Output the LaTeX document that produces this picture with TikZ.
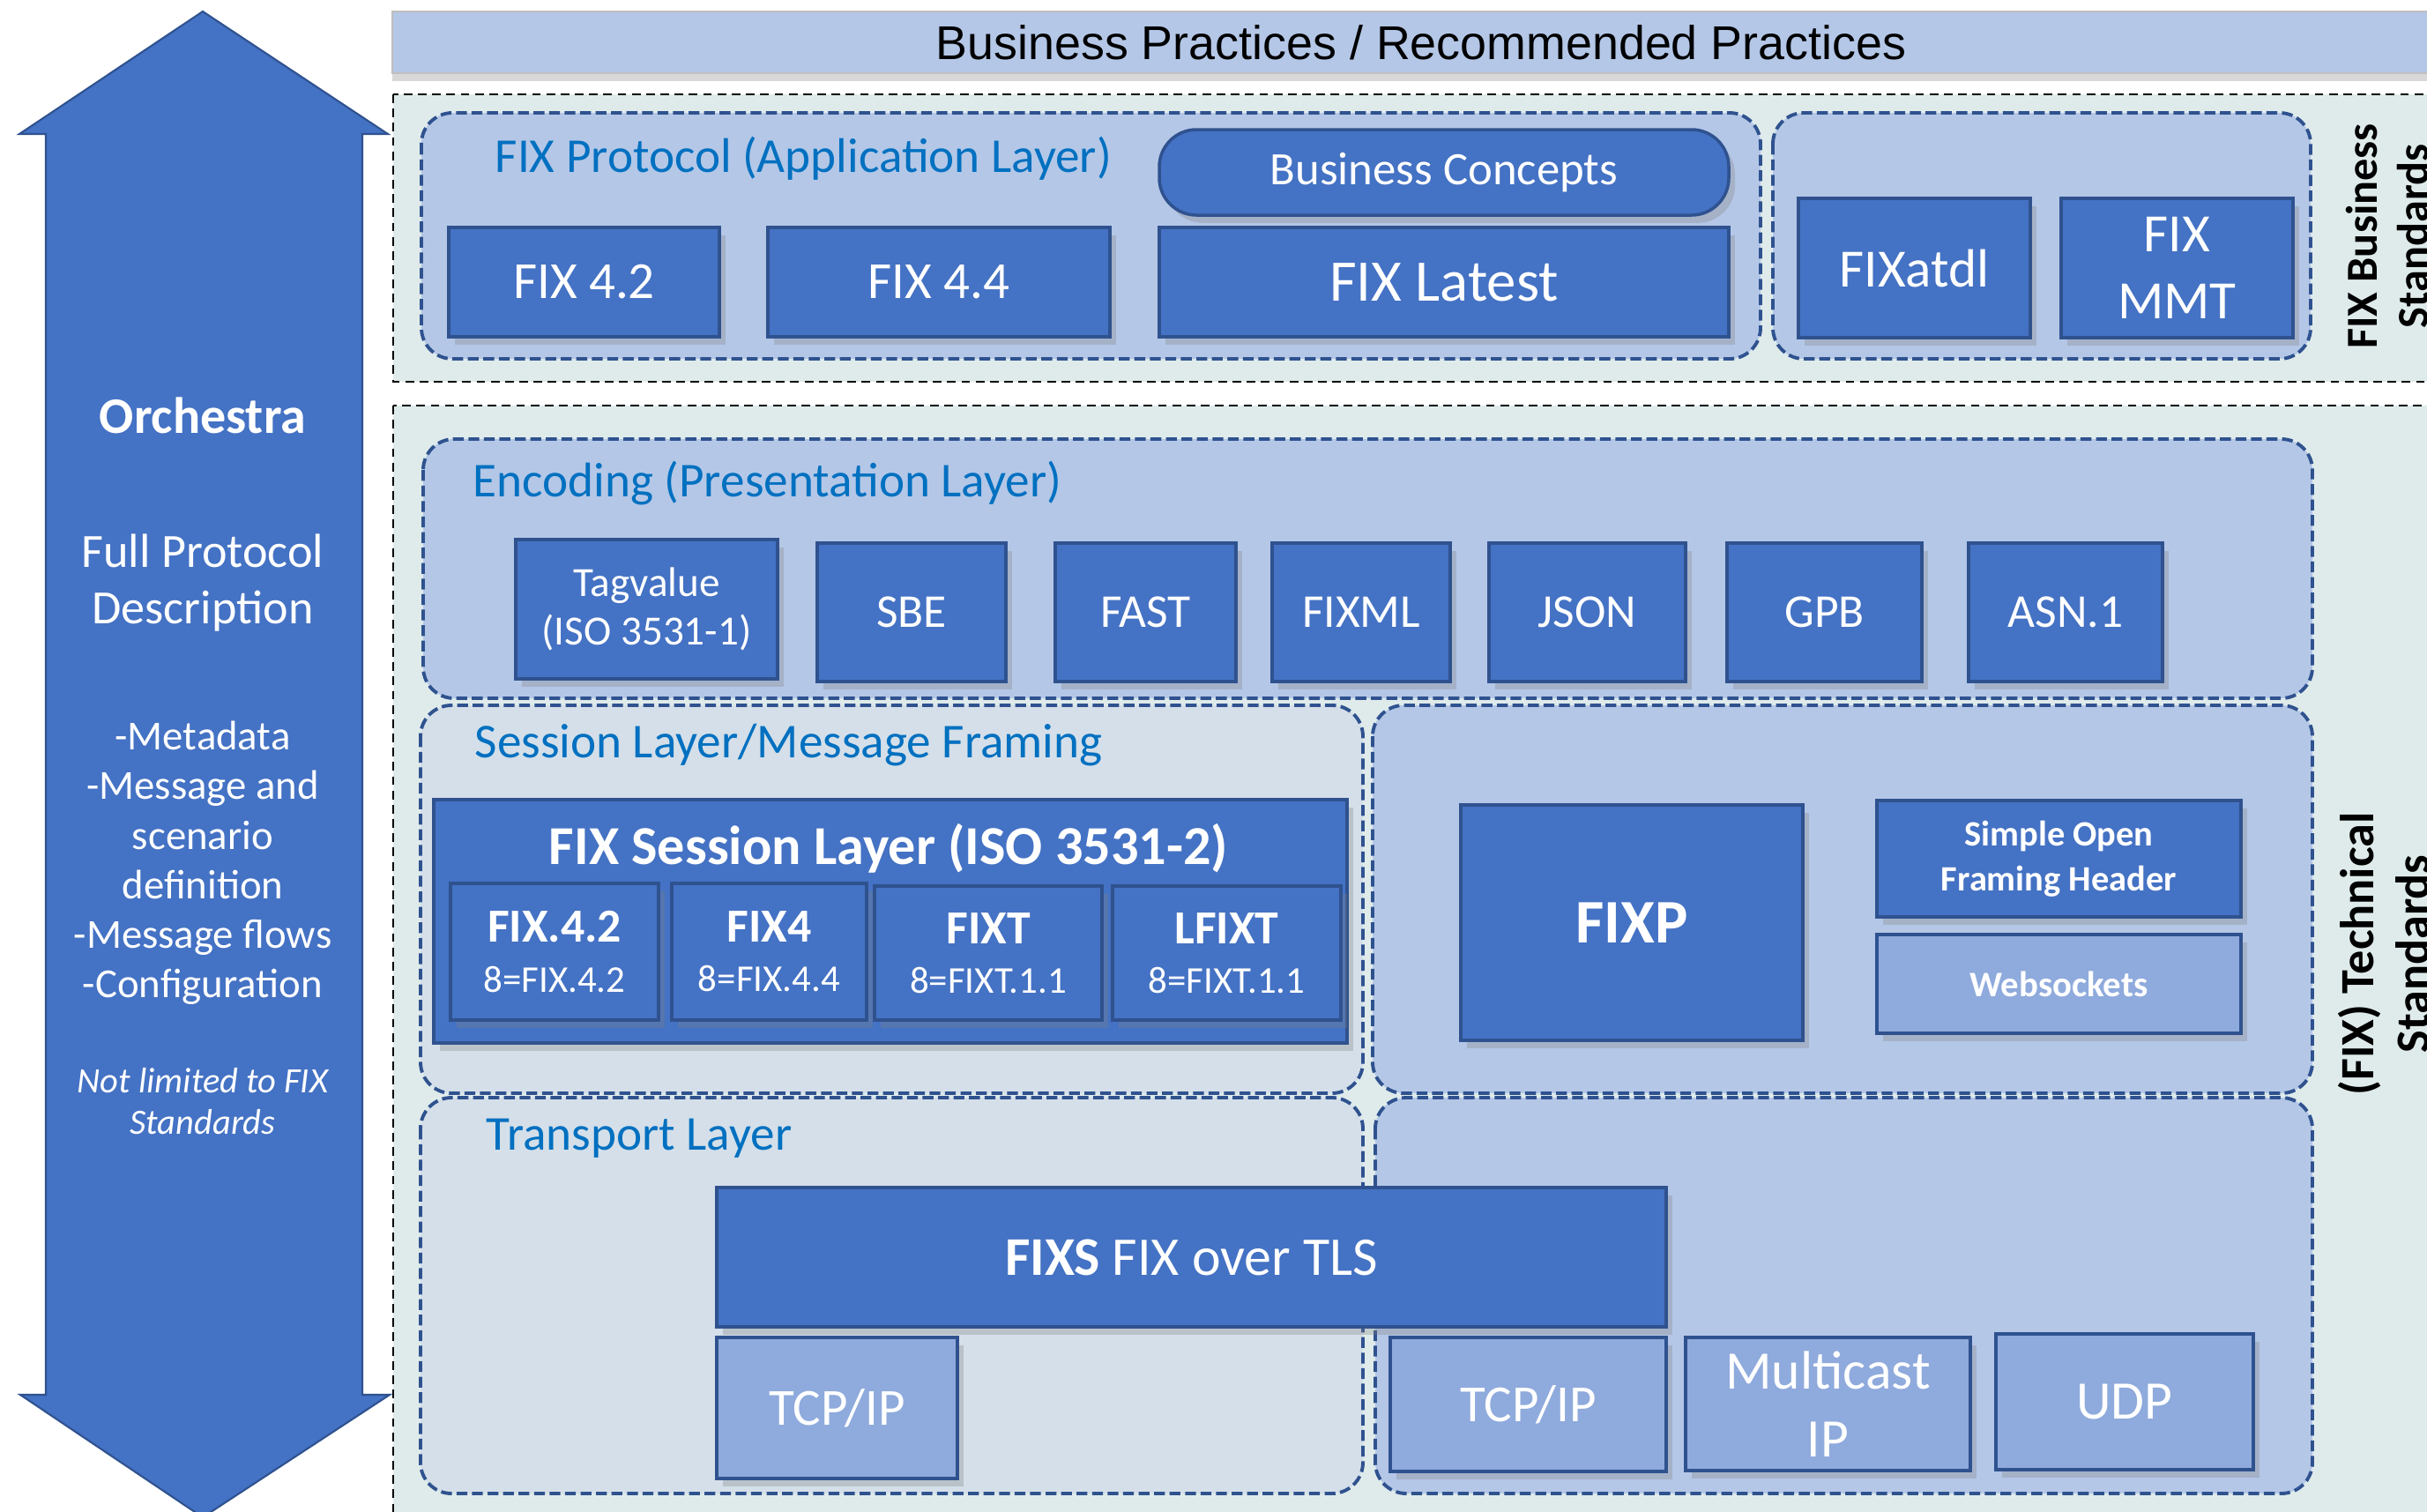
\documentclass[tikz,border=0pt]{standalone}
\usepackage{fontspec}
\setmainfont{Carlito}
\newfontfamily\arialfont{Liberation Sans}
\usetikzlibrary{shadows}

\definecolor{fixblue}{HTML}{4472C4}
\definecolor{fixedge}{HTML}{2F528F}
\definecolor{fixlight}{HTML}{8FAADC}
\definecolor{layerfill}{HTML}{B4C7E7}
\definecolor{palefill}{HTML}{D4DFE9}
\definecolor{areafill}{HTML}{DFEBEB}
\definecolor{titleblue}{HTML}{0070C0}

\def \bizarea{ (446,107) rectangle (2800,433) }
\def \techarea{ (446,460) rectangle (2800,1780) }
\def \applayer{ (478,128) rectangle (1997,407) }
\def \toolayer{ (2011,128) rectangle (2621,407) }
\def \enclayer{ (480,498) rectangle (2623,792) }
\def \sesslayer{ (477,800) rectangle (1546,1240) }
\def \fixplayer{ (1557,800) rectangle (2623,1240) }
\def \translayer{ (477,1245) rectangle (1546,1694) }
\def \udplayer{ (1560,1245) rectangle (2623,1694) }

\begin{document}
\begin{tikzpicture}[x=0.01cm, y=-0.01cm,
  spot/.style n args={4}{at={({(#1+#3)/2},{(#2+#4)/2})},
    minimum width={(#3-#1)*0.01cm}, minimum height={(#4-#2)*0.01cm}},
  blk/.style={draw=fixedge, line width=1pt, fill=fixblue, text=white, inner sep=0pt, align=center,
    drop shadow={shadow xshift=2pt, shadow yshift=-2.5pt, opacity=0.3}},
  lightblk/.style={blk, fill=fixlight},
  layer/.style={draw=fixedge, line width=1.1pt, dash pattern=on 3.5pt off 1.5pt, rounded corners=10pt, fill=layerfill},
  palelayer/.style={layer, fill=palefill},
  area/.style={draw=black, line width=0.8pt, dash pattern=on 2.8pt off 1.8pt, fill=areafill},
  ltitle/.style={text=titleblue, font=\fontsize{15.7}{18}\selectfont, anchor=west, inner sep=0pt},
  orch/.style={text=white, align=center, inner sep=0pt},
  side/.style={font=\bfseries\fontsize{14.3}{16.5}\selectfont, rotate=90, align=center, inner sep=0pt}
]
\useasboundingbox (0,0) rectangle (2753,1714);
\fill[white] (0,0) rectangle (2753,1714);

% the Orchestra double arrow
\filldraw[fill=fixblue, draw=fixedge, line width=0.6pt] (230,13) -- (440,152) -- (411,152) -- (411,1582) -- (442,1582)
  -- (230,1721) -- (23,1582) -- (52,1582) -- (52,152) -- (22,152) -- cycle;
\node[orch, font=\bfseries\fontsize{16.5}{20}\selectfont] (orchname) at (230,471) {Orchestra};
\node[orch, font=\fontsize{15.4}{18}\selectfont] (orchdesc) at (230,661) {Full Protocol\\Description};
\node[orch, font=\fontsize{13.3}{16}\selectfont] (orchlist) at (230,979) {-Metadata\\-Message and\\scenario\\definition\\-Message flows\\-Configuration};
\node[orch, font=\itshape\fontsize{11.5}{13.4}\selectfont] (orchnote) at (230,1249) {Not limited to FIX\\Standards};

% practices bar
\node[spot={445}{13}{2779}{83}, inner sep=0pt, fill=layerfill, draw=gray!50, line width=0.5pt,
  drop shadow={shadow xshift=0pt, shadow yshift=-2.5pt, opacity=0.3},
  font=\arialfont\fontsize{15.3}{18}\selectfont] (practices) {Business Practices / Recommended Practices};

% the two standards areas
\draw[area] \bizarea;
\draw[area] \techarea;
\node[side] (bizstd) at (2708,268) {FIX Business\\Standards};
\node[side, font=\bfseries\fontsize{15.4}{18}\selectfont] (techstd) at (2704,1082) {(FIX) Technical\\Standards};

% business standards
\draw[layer] \applayer;
\draw[layer] \toolayer;
\node[ltitle] (apptitle) at (561,180) {FIX Protocol (Application Layer)};
\node[blk, spot={509}{258}{816}{382}, font=\fontsize{16.8}{20}\selectfont] (fix42) {FIX 4.2};
\node[blk, spot={871}{258}{1259}{382}, font=\fontsize{16.8}{20}\selectfont] (fix44) {FIX 4.4};
\node[blk, rounded corners=12pt, spot={1315}{147}{1961}{244}, font=\fontsize{15}{18}\selectfont] (concepts) {Business Concepts};
\node[blk, spot={1315}{258}{1961}{382}, font=\fontsize{19}{22}\selectfont] (fixlatest) {FIX Latest};
\node[blk, spot={2040}{225}{2303}{383}, font=\fontsize{17.4}{21.8}\selectfont] (fixatdl) {FIXatdl};
\node[blk, spot={2338}{225}{2601}{383}, font=\fontsize{17.4}{21.8}\selectfont] (fixmmt) {FIX\\MMT};

% encoding
\draw[layer] \enclayer;
\node[ltitle] (enctitle) at (536,548) {Encoding (Presentation Layer)};
\node[blk, spot={585}{612}{882}{770}, font=\fontsize{13.4}{15.6}\selectfont] (tagvalue) {Tagvalue\\(ISO 3531-1)};
\node[blk, spot={927}{616}{1141}{773}, font=\fontsize{15.2}{18}\selectfont] (sbe) {SBE};
\node[blk, spot={1197}{616}{1402}{773}, font=\fontsize{15.2}{18}\selectfont] (fast) {FAST};
\node[blk, spot={1443}{616}{1645}{773}, font=\fontsize{15.2}{18}\selectfont] (fixml) {FIXML};
\node[blk, spot={1689}{616}{1912}{773}, font=\fontsize{15.2}{18}\selectfont] (json) {JSON};
\node[blk, spot={1959}{616}{2180}{773}, font=\fontsize{15.2}{18}\selectfont] (gpb) {GPB};
\node[blk, spot={2233}{616}{2453}{773}, font=\fontsize{15.2}{18}\selectfont] (asn) {ASN.1};

% session layer
\draw[palelayer] \sesslayer;
\draw[layer] \fixplayer;
\node[ltitle] (sesstitle) at (538,845) {Session Layer/Message Framing};
\node[blk, spot={492}{907}{1528}{1183}] (session) {};
\node[text=white, font=\bfseries\fontsize{17.7}{20}\selectfont, inner sep=0pt] (sessname) at (1008,962) {FIX Session Layer (ISO 3531-2)};
\node[blk, spot={511}{1002}{747}{1157}, font=\fontsize{15.3}{16}\selectfont] (v42) {{\bfseries FIX.4.2}\\{\fontsize{12.2}{14}\selectfont 8=FIX.4.2}};
\node[blk, spot={762}{1002}{983}{1157}, font=\fontsize{15.3}{16}\selectfont] (v4) {{\bfseries FIX4}\\{\fontsize{12.2}{14}\selectfont 8=FIX.4.4}};
\node[blk, spot={992}{1005}{1250}{1157}, font=\fontsize{15.3}{16}\selectfont] (vt) {{\bfseries FIXT}\\{\fontsize{12.2}{14}\selectfont 8=FIXT.1.1}};
\node[blk, spot={1262}{1005}{1521}{1157}, font=\fontsize{15.3}{16}\selectfont] (vlt) {{\bfseries LFIXT}\\{\fontsize{12.2}{14}\selectfont 8=FIXT.1.1}};
\node[blk, spot={1657}{913}{2045}{1180}, font=\bfseries\fontsize{20}{24}\selectfont] (fixp) {FIXP};
\node[blk, spot={2129}{908}{2542}{1040}, font=\bfseries\fontsize{11.5}{14.5}\selectfont] (sofh) {Simple Open\\Framing Header};
\node[lightblk, spot={2129}{1060}{2542}{1172}, font=\bfseries\fontsize{11.6}{14}\selectfont] (websock) {Websockets};

% transport layer
\draw[palelayer] \translayer;
\draw[layer] \udplayer;
\node[ltitle] (transtitle) at (551,1291) {Transport Layer};
\node[blk, spot={813}{1347}{1890}{1505}, font=\fontsize{17.6}{20}\selectfont] (fixs) {{\bfseries FIXS} FIX over TLS};
\node[lightblk, spot={813}{1517}{1086}{1677}, font=\fontsize{16.8}{20}\selectfont] (tcpa) {TCP/IP};
\node[lightblk, spot={1577}{1517}{1890}{1669}, font=\fontsize{16.8}{20}\selectfont] (tcpb) {TCP/IP};
\node[lightblk, spot={1912}{1517}{2235}{1668}, font=\fontsize{17.5}{21.8}\selectfont] (mcast) {Multicast\\IP};
\node[lightblk, spot={2264}{1513}{2556}{1667}, font=\fontsize{17.5}{20}\selectfont] (udp) {UDP};
\end{tikzpicture}
\end{document}
